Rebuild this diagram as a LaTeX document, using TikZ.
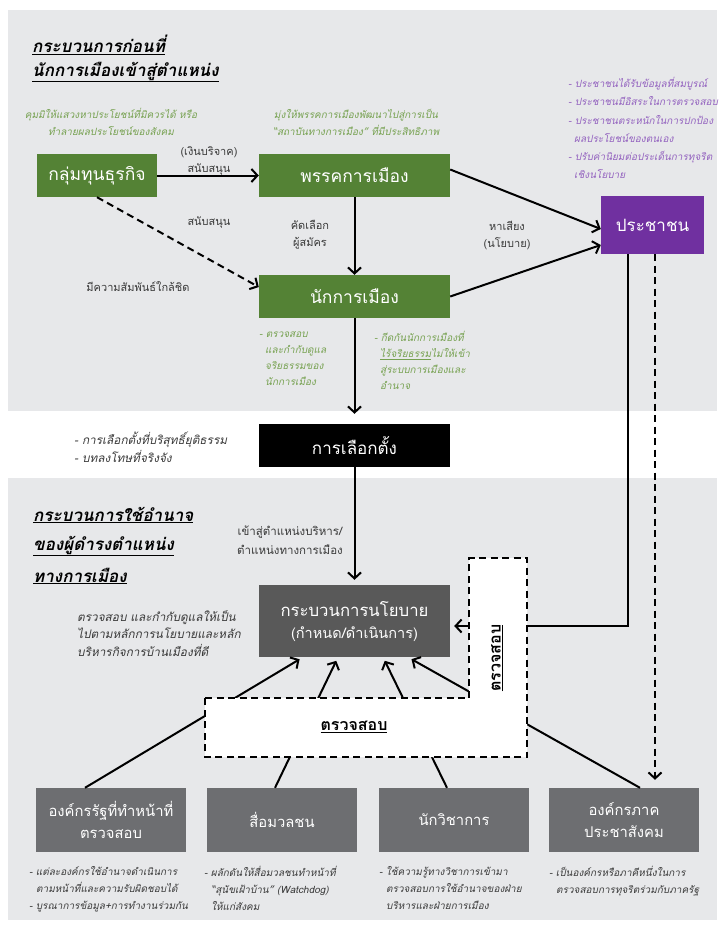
\documentclass[tikz,border=0pt]{standalone}
\usepackage{fontspec}
\setmainfont[Script=Thai]{Loma}
\usetikzlibrary{arrows.meta}

\definecolor{bggrey}{HTML}{E7E8EA}
\definecolor{boxgreen}{HTML}{548235}
\definecolor{notegreen}{HTML}{76A150}
\definecolor{peoplepurple}{HTML}{7030A0}
\definecolor{notepurple}{HTML}{9362BF}
\definecolor{policygrey}{HTML}{595959}
\definecolor{checkgrey}{HTML}{6D6E71}
\definecolor{labelgrey}{HTML}{3A3A3A}

\tikzset{
  greenbox/.style={fill=boxgreen, text=white, minimum width=191pt, minimum height=43pt,
    inner sep=0pt, font=\fontsize{17.5}{20}\selectfont},
  peoplebox/.style={fill=peoplepurple, text=white, minimum width=103pt, minimum height=58pt,
    inner sep=0pt, font=\fontsize{17}{20}\selectfont},
  electbox/.style={fill=black, text=white, minimum width=191pt, minimum height=43pt,
    inner sep=0pt, font=\fontsize{17}{20}\selectfont},
  policybox/.style={fill=policygrey, text=white, minimum width=191pt, minimum height=72pt,
    inner sep=0pt, align=center, font=\fontsize{16.7}{22}\selectfont},
  checkbox/.style={fill=checkgrey, text=white, minimum width=150pt, minimum height=64pt,
    inner sep=0pt, align=center, font=\fontsize{14.8}{22}\selectfont},
  titletext/.style={inner sep=0pt, font=\fontsize{17}{30}\selectfont\bfseries\itshape},
  edgelabel/.style={inner sep=0pt, align=center, text=labelgrey, font=\fontsize{11}{17}\selectfont},
  greennote/.style={inner sep=0pt, text=notegreen, font=\fontsize{10}{17}\selectfont\itshape},
  purplenote/.style={inner sep=0pt, align=left, text=notepurple, font=\fontsize{10}{18.3}\selectfont\itshape},
  greynote/.style={inner sep=0pt, align=left, text=labelgrey, font=\fontsize{11.8}{17.5}\selectfont\itshape},
  bottomnote/.style={greynote, font=\fontsize{10}{17}\selectfont\itshape},
  arrow/.style={draw, line width=2pt, -{Straight Barb[length=6pt,width=13pt]}},
  dashline/.style={dash pattern=on 7pt off 4.5pt},
}

\begin{document}
\begin{tikzpicture}[x=1pt,y=-1pt]
\useasboundingbox (0,0) rectangle (724,927);
% grey panels
\fill[bggrey] (8,10) rectangle (717,411);
\fill[bggrey] (8,478) rectangle (717,920);

% titles
\node[titletext, anchor=west] (titleAa) at (32,45) {\underline{กระบวนการก่อนที่}};
\node[titletext, anchor=west] (titleAb) at (32,72) {\underline{นักการเมืองเข้าสู่ตำแหน่ง}};
\node[titletext, anchor=west] (titleBa) at (33,515) {\underline{กระบวนการใช้อำนาจ}};
\node[titletext, anchor=west] (titleBb) at (33,546) {\underline{ของผู้ดำรงตำแหน่ง}};
\node[titletext, anchor=west] (titleBc) at (33,576) {\underline{ทางการเมือง}};

% boxes
\node[greenbox, minimum width=120pt] (capital) at (97,175.5) {กลุ่มทุนธุรกิจ};
\node[greenbox] (party) at (354.5,175.5) {พรรคการเมือง};
\node[greenbox] (politician) at (354.5,296.5) {นักการเมือง};
\node[peoplebox] (people) at (652.5,225) {ประชาชน};
\node[electbox] (election) at (354.5,445.5) {การเลือกตั้ง};
\node[policybox] (policy) at (354.5,621) {กระบวนการนโยบาย\\{\fontsize{14.5}{16}\selectfont(กำหนด/ดำเนินการ)}};
\node[checkbox] (stateorg) at (111,820) {องค์กรรัฐที่ทำหน้าที่\\ตรวจสอบ};
\node[checkbox] (media) at (282,820) {สื่อมวลชน};
\node[checkbox] (academic) at (454,820) {นักวิชาการ};
\node[checkbox] (civil) at (624,820) {องค์กรภาค\\ประชาสังคม};

% notes
\node[greennote, align=center] (capitalnote) at (111,122) {คุมมิให้แสวงหาประโยชน์ที่มิควรได้ หรือ\\ทำลายผลประโยชน์ของสังคม};
\node[greennote, align=center] (partynote) at (356,122) {มุ่งให้พรรคการเมืองพัฒนาไปสู่การเป็น\\“สถาบันทางการเมือง” ที่มีประสิทธิภาพ};
\node[purplenote, anchor=north west] (peoplenote) at (568,77) {- ประชาชนได้รับข้อมูลที่สมบูรณ์\\- ประชาชนมีอิสระในการตรวจสอบ\\- ประชาชนตระหนักในการปกป้อง\\\hspace*{6pt}ผลประโยชน์ของตนเอง\\- ปรับค่านิยมต่อประเด็นการทุจริต\\\hspace*{6pt}เชิงนโยบาย};
\node[greennote, align=left, anchor=north west, font=\fontsize{10}{16}\selectfont\itshape] (ethicnote) at (259,331) {- ตรวจสอบ\\\hspace*{6pt}และกำกับดูแล\\\hspace*{6pt}จริยธรรมของ\\\hspace*{6pt}นักการเมือง};
\node[greennote, align=left, anchor=north west, font=\fontsize{10}{16}\selectfont\itshape] (barnote) at (374,331) {- กีดกันนักการเมืองที่\\\hspace*{6pt}\underline{ไร้จริยธรรม}ไม่ให้เข้า\\\hspace*{6pt}สู่ระบบการเมืองและ\\\hspace*{6pt}อำนาจ};
\node[greynote, anchor=north west] (electnote) at (74,432) {- การเลือกตั้งที่บริสุทธิ์ยุติธรรม\\- บทลงโทษที่จริงจัง};
\node[greynote, anchor=north west] (policynote) at (77,610) {ตรวจสอบ และกำกับดูแลให้เป็น\\ไปตามหลักการนโยบายและหลัก\\บริหารกิจการบ้านเมืองที่ดี};
\node[bottomnote, anchor=north west] (stateorgnote) at (29,866) {- แต่ละองค์กรใช้อำนาจดำเนินการ\\\hspace*{7pt}ตามหน้าที่และความรับผิดชอบได้\\- บูรณาการข้อมูล+การทำงานร่วมกัน};
\node[bottomnote, anchor=north west] (medianote) at (204,866) {- ผลักดันให้สื่อมวลชนทำหน้าที่\\\hspace*{7pt}“สุนัขเฝ้าบ้าน” (Watchdog)\\\hspace*{7pt}ให้แก่สังคม};
\node[bottomnote, anchor=north west] (academicnote) at (379,866) {- ใช้ความรู้ทางวิชาการเข้ามา\\\hspace*{7pt}ตรวจสอบการใช้อำนาจของฝ่าย\\\hspace*{7pt}บริหารและฝ่ายการเมือง};
\node[bottomnote, anchor=north west] (civilnote) at (549,866) {- เป็นองค์กรหรือภาคีหนึ่งในการ\\\hspace*{7pt}ตรวจสอบการทุจริตร่วมกับภาครัฐ};

% connectors, upper part
\draw[arrow] (capital) -- (party);
\draw[arrow, dashline] (capital.south) -- ([yshift=9.5pt]politician.west);
\draw[arrow] (party) -- (politician);
\draw[arrow] ([yshift=6pt]party.east) -- ([yshift=-4pt]people.west);
\draw[arrow] (politician.east) -- ([yshift=-20pt]people.west);
\draw[arrow, shorten >=10pt] (politician) -- (election);
\draw[arrow, shorten >=5pt] (election) -- (policy);

\node[edgelabel] (fundlabel) at (209,161) {(เงินบริจาค)\\สนับสนุน};
\node[edgelabel] (supportlabel) at (209,223) {สนับสนุน};
\node[edgelabel] (closelabel) at (138,287) {มีความสัมพันธ์ใกล้ชิด};
\node[edgelabel] (selectlabel) at (310,235) {คัดเลือก\\ผู้สมัคร};
\node[edgelabel] (canvasslabel) at (507,235) {หาเสียง\\(นโยบาย)};
\node[edgelabel, font=\fontsize{11.5}{19}\selectfont] (enterlabel) at (290,540) {เข้าสู่ตำแหน่งบริหาร/\\ตำแหน่งทางการเมือง};

% checks into the policy process
\draw[arrow, shorten >=4pt] ([xshift=-26pt]stateorg.north) -- ([xshift=-51.5pt]policy.south);
\draw[arrow, shorten >=4pt] ([xshift=-7pt]media.north) -- ([xshift=-16.5pt]policy.south);
\draw[arrow, shorten >=4pt] ([xshift=-7pt]academic.north) -- ([xshift=28.5pt]policy.south);
\draw[arrow, shorten >=4pt] ([xshift=16pt]civil.north) -- ([xshift=53.5pt]policy.south);

% L shaped check area
\draw[fill=white, line width=2pt, dashline] (205,698) -- (469,698) -- (469,558) -- (527,558)
  -- (527,757) -- (205,757) -- cycle;
\node[inner sep=0pt, font=\fontsize{16}{18}\selectfont\bfseries] (checklow) at (354,727) {\underline{ตรวจสอบ}};
\node[inner sep=0pt, rotate=90, font=\fontsize{16}{18}\selectfont\bfseries] (checkside) at (497,658) {\underline{ตรวจสอบ}};
\coordinate (lright) at (527,626);
\coordinate (lleft) at (469,626);

\draw[line width=2pt] ([xshift=-24.5pt]people.south) |- (lright);
\draw[arrow, shorten >=4pt] (lleft) -- (lleft -| policy.east);
\draw[arrow, dashline, shorten >=8pt] ([xshift=2.5pt]people.south) -- ([xshift=31pt]civil.north);
\end{tikzpicture}
\end{document}
